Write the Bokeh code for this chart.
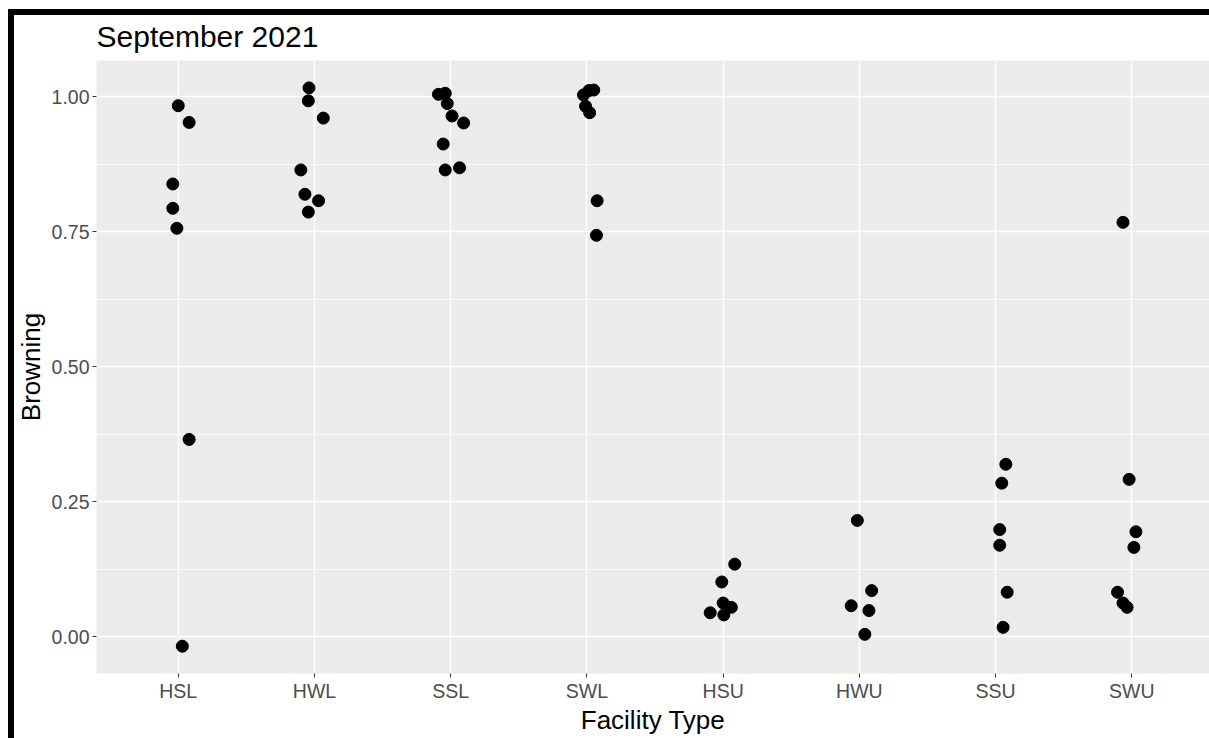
from bokeh.plotting import figure
from bokeh.models import ColumnDataSource, FixedTicker, Range1d, InlineStyleSheet
from bokeh.embed import file_html
from bokeh.resources import INLINE

# ---- data ----
categories = ["HSL", "HWL", "SSL", "SWL", "HSU", "HWU", "SSU", "SWU"]

hsl = [0.983, 0.952, 0.838, 0.793, 0.756, 0.365, -0.018]
hwl = [1.016, 0.992, 0.960, 0.864, 0.819, 0.807, 0.786]
ssl = [1.004, 1.006, 0.987, 0.964, 0.951, 0.912, 0.864, 0.868]
swl = [1.003, 1.011, 1.012, 0.982, 0.970, 0.807, 0.743]
hsu = [0.134, 0.101, 0.062, 0.054, 0.044, 0.040]
hwu = [0.215, 0.085, 0.057, 0.048, 0.004]
ssu = [0.319, 0.284, 0.198, 0.169, 0.082, 0.017]
swu = [0.767, 0.291, 0.194, 0.165, 0.082, 0.062, 0.054]

# horizontal jitter (category units) as it appears in the reference
hsl_jit = [0.00, 0.08, -0.04, -0.04, -0.01, 0.08, 0.03]
hwl_jit = [-0.04, -0.045, 0.065, -0.10, -0.07, 0.03, -0.045]
ssl_jit = [-0.09, -0.04, -0.025, 0.01, 0.095, -0.055, -0.04, 0.065]
swl_jit = [-0.025, 0.015, 0.05, -0.01, 0.02, 0.075, 0.07]
hsu_jit = [0.085, -0.01, 0.00, 0.06, -0.095, 0.005]
hwu_jit = [-0.015, 0.09, -0.06, 0.07, 0.04]
ssu_jit = [0.075, 0.045, 0.03, 0.03, 0.085, 0.055]
swu_jit = [-0.065, -0.02, 0.03, 0.015, -0.105, -0.065, -0.035]

y_ticks = [0.0, 0.25, 0.50, 0.75, 1.00]
y_minor = [0.125, 0.375, 0.625, 0.875]

series = [hsl, hwl, ssl, swl, hsu, hwu, ssu, swu]
jitters = [hsl_jit, hwl_jit, ssl_jit, swl_jit, hsu_jit, hwu_jit, ssu_jit, swu_jit]

xs, ys = [], []
for i, (vals, jit) in enumerate(zip(series, jitters)):
    for v, j in zip(vals, jit):
        xs.append(i + 1 + j)
        ys.append(v)
src = ColumnDataSource(dict(x=xs, y=ys))

FONT = "Liberation Sans"

p = figure(width=1209, height=738, output_backend="svg", toolbar_location=None,
           x_range=Range1d(0.4, 8.57), y_range=Range1d(-0.0685, 1.0667),
           min_border_left=96, min_border_right=0, min_border_top=60,
           min_border_bottom=65, title="September 2021")

# black frame lines (left and top) drawn over the picture, without changing layout
frame_css = """
:host::before { content: ""; position: absolute; left: 8px; top: 9px;
  width: 6px; height: 729px; background: black; z-index: 100; pointer-events: none; }
:host::after { content: ""; position: absolute; left: 8px; top: 9px;
  width: 1201px; height: 6px; background: black; z-index: 100; pointer-events: none; }
"""
p.stylesheets = [InlineStyleSheet(css=frame_css)]

p.background_fill_color = "#EBEBEB"
p.border_fill_color = "white"
p.outline_line_color = None

p.scatter("x", "y", source=src, size=12, color="black", line_color="black")

# title
p.title.text_font = FONT
p.title.text_font_size = "30px"
p.title.text_font_style = "normal"
p.title.text_color = "black"
p.title.align = "left"
p.title.standoff = 16

# axes
p.xaxis.ticker = FixedTicker(ticks=list(range(1, len(categories) + 1)))
p.xaxis.major_label_overrides = {i + 1: c for i, c in enumerate(categories)}
p.yaxis.ticker = FixedTicker(ticks=y_ticks, minor_ticks=y_minor)
p.yaxis.major_label_overrides = {t: f"{t:.2f}" for t in y_ticks}

for ax in (p.xaxis[0], p.yaxis[0]):
    ax.axis_line_color = None
    ax.major_tick_line_color = "#333333"
    ax.major_tick_in = 0
    ax.major_tick_out = 4
    ax.minor_tick_line_color = None
    ax.major_label_text_font = FONT
    ax.major_label_text_font_size = "19.5px"
    ax.major_label_text_color = "#4D4D4D"
    ax.major_label_standoff = 3
    ax.axis_label_text_font = FONT
    ax.axis_label_text_font_size = "26px"
    ax.axis_label_text_font_style = "normal"
    ax.axis_label_text_color = "black"
    ax.axis_label_standoff = 3

p.xaxis.major_label_standoff = 2
p.xaxis.axis_label_standoff = 0

p.xaxis.axis_label = "Facility Type"
p.yaxis.axis_label = "Browning"

# grid
p.xgrid.grid_line_color = "white"
p.xgrid.grid_line_width = 1.4
p.ygrid.grid_line_color = "white"
p.ygrid.grid_line_width = 1.4
p.ygrid.minor_grid_line_color = "white"
p.ygrid.minor_grid_line_width = 0.8

open("out.html", "w").write(file_html(p, INLINE))
